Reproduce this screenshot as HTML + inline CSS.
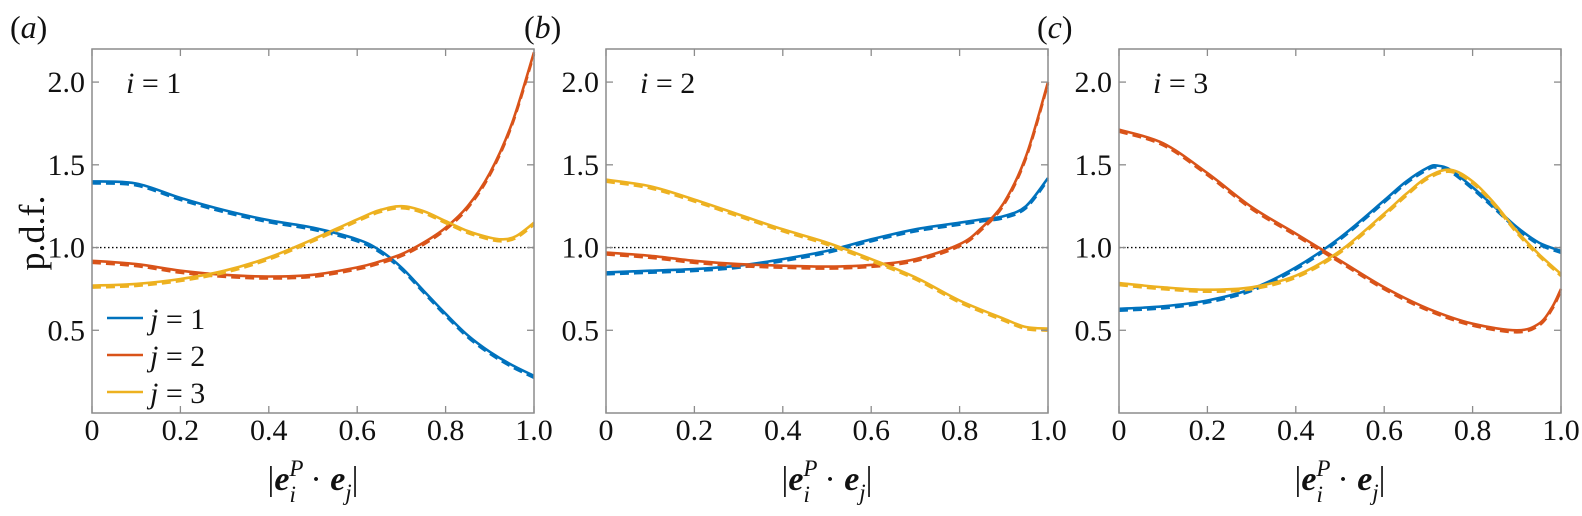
<!DOCTYPE html>
<html><head><meta charset="utf-8"><style>
html,body{margin:0;padding:0;background:#fff;}
svg{display:block;}
svg text{font-family:"Liberation Serif","DejaVu Serif","Noto Serif CJK SC",serif;}
</style></head><body>
<svg id="chart" width="1582" height="516" viewBox="0 0 1582 516"></svg>
<script>
const xTicks=[0,0.2,0.4,0.6,0.8,1.0];
const xTickLabels=["0","0.2","0.4","0.6","0.8","1.0"];
const yTicks=[0.5,1.0,1.5,2.0];
const yTickLabels=["0.5","1.0","1.5","2.0"];
const panelLetters=["a","b","c"];
const panelIndex=["1","2","3"];
const aX=[0,0.1,0.2,0.3,0.4,0.5,0.6,0.65,0.7,0.75,0.8,0.85,0.9,0.95,1.0];
const aBlue=[1.40,1.387,1.30,1.225,1.165,1.12,1.05,0.985,0.88,0.74,0.60,0.47,0.37,0.29,0.225];
const aRed=[0.92,0.90,0.86,0.835,0.825,0.835,0.88,0.915,0.96,1.03,1.12,1.25,1.45,1.75,2.18];
const aYX=[0,0.1,0.2,0.3,0.4,0.5,0.6,0.65,0.7,0.75,0.8,0.85,0.9,0.93,0.96,1.0];
const aYellow=[0.77,0.78,0.81,0.86,0.94,1.05,1.17,1.225,1.25,1.22,1.16,1.10,1.06,1.05,1.07,1.15];
const bX=[0,0.1,0.2,0.3,0.4,0.5,0.6,0.7,0.8,0.85,0.9,0.95,1.0];
const bBlue=[0.85,0.86,0.87,0.89,0.93,0.98,1.05,1.11,1.15,1.17,1.19,1.25,1.42];
const bRed=[0.97,0.95,0.92,0.90,0.89,0.885,0.895,0.93,1.02,1.12,1.27,1.55,2.0];
const bYX=[0,0.1,0.2,0.3,0.4,0.5,0.6,0.7,0.8,0.9,0.95,1.0];
const bYellow=[1.41,1.37,1.29,1.20,1.11,1.03,0.93,0.82,0.68,0.57,0.52,0.51];
const cRX=[0,0.1,0.2,0.3,0.4,0.5,0.6,0.7,0.8,0.9,0.95,0.98,1.0];
const cRed=[1.713,1.63,1.45,1.245,1.084,0.922,0.76,0.63,0.54,0.50,0.54,0.64,0.75];
const cBX=[0,0.1,0.2,0.3,0.4,0.5,0.6,0.65,0.7,0.72,0.75,0.8,0.85,0.9,0.95,1.0];
const cBlue=[0.63,0.645,0.68,0.75,0.88,1.06,1.285,1.40,1.485,1.495,1.47,1.365,1.245,1.124,1.03,0.98];
const cYX=[0,0.1,0.2,0.3,0.4,0.5,0.6,0.65,0.7,0.75,0.8,0.85,0.9,0.95,1.0];
const cYellow=[0.785,0.76,0.745,0.76,0.83,0.98,1.205,1.325,1.43,1.47,1.40,1.265,1.10,0.96,0.84];
const legendLabels=["1","2","3"];

const NS="http://www.w3.org/2000/svg";
const svg=document.getElementById('chart');
const C={blue:"#0072BD",red:"#D95319",yellow:"#EDB120"};
const panelsLeft=[92,606,1119], PW=442, TOP=49, BOT=413, YMAX=2.2;
function mk(tag,attrs,parent){const e=document.createElementNS(NS,tag);for(const k in attrs)e.setAttribute(k,attrs[k]);(parent||svg).appendChild(e);return e;}
function sx(p,v){return panelsLeft[p]+v*PW;}
function sy(v){return BOT-(v/YMAX)*(BOT-TOP);}
function pathD(p,xs,ys,off){
  const pts=xs.map((x,i)=>[sx(p,x),sy(ys[i]+off)]);
  let d="M"+pts[0][0].toFixed(1)+","+pts[0][1].toFixed(1);
  for(let i=0;i<pts.length-1;i++){
    const p0=pts[Math.max(0,i-1)],p1=pts[i],p2=pts[i+1],p3=pts[Math.min(pts.length-1,i+2)];
    const c1=[p1[0]+(p2[0]-p0[0])/6,p1[1]+(p2[1]-p0[1])/6];
    const c2=[p2[0]-(p3[0]-p1[0])/6,p2[1]-(p3[1]-p1[1])/6];
    d+=" C"+c1[0].toFixed(1)+","+c1[1].toFixed(1)+" "+c2[0].toFixed(1)+","+c2[1].toFixed(1)+" "+p2[0].toFixed(1)+","+p2[1].toFixed(1);
  }
  return d;
}
const series=[
 [[aX,aBlue,"blue"],[aX,aRed,"red"],[aYX,aYellow,"yellow"]],
 [[bX,bBlue,"blue"],[bX,bRed,"red"],[bYX,bYellow,"yellow"]],
 [[cBX,cBlue,"blue"],[cRX,cRed,"red"],[cYX,cYellow,"yellow"]]
];
for(let p=0;p<3;p++){
  const g=mk('g',{});
  
  
  const L=panelsLeft[p],R=L+PW;
  const ref=mk('line',{x1:L,x2:R,y1:sy(1),y2:sy(1),stroke:"#000","stroke-width":1.3,"stroke-dasharray":"1.5,2.5"},g);
  
  
  series[p].forEach(s=>{
    const dash=mk('path',{d:pathD(p,s[0],s[1],-0.012),fill:"none",stroke:C[s[2]],"stroke-width":2.6,"stroke-dasharray":"9,5"},g);
    
    
    const ln=mk('path',{d:pathD(p,s[0],s[1],0),fill:"none",stroke:C[s[2]],"stroke-width":2.6},g);
    
    
  });
  const fr=mk('rect',{x:L,y:TOP,width:PW,height:BOT-TOP,fill:"none",stroke:"#8c8c8c","stroke-width":1.5},g);
  
  
  xTicks.forEach((t,i)=>{
    const x=sx(p,t);
    mk('line',{x1:x,x2:x,y1:BOT,y2:BOT-7,stroke:"#8c8c8c","stroke-width":1.3},g);
    mk('line',{x1:x,x2:x,y1:TOP,y2:TOP+7,stroke:"#8c8c8c","stroke-width":1.3},g);
    const tx=mk('text',{x:x,y:440,"font-size":30,"text-anchor":"middle",fill:"#111"},g);
    tx.textContent=xTickLabels[i];
    
    
  });
  yTicks.forEach((t,i)=>{
    const y=sy(t);
    mk('line',{x1:L,x2:L+7,y1:y,y2:y,stroke:"#8c8c8c","stroke-width":1.3},g);
    mk('line',{x1:R,x2:R-7,y1:y,y2:y,stroke:"#8c8c8c","stroke-width":1.3},g);
    const ty=mk('text',{x:L-7,y:y+10,"font-size":30,"text-anchor":"end",fill:"#111"},g);
    ty.textContent=yTickLabels[i];
    
    
  });
  const xt=mk('text',{x:L+PW/2,y:490,"font-size":34,"text-anchor":"middle",fill:"#111"},g);
  xt.innerHTML='|<tspan font-weight="bold" font-style="italic">e</tspan><tspan font-style="italic" font-size="23" dy="-14">P</tspan><tspan font-style="italic" font-size="23" dx="-14" dy="26">i</tspan><tspan dy="-12" dx="6"> · </tspan><tspan font-weight="bold" font-style="italic">e</tspan><tspan font-style="italic" font-size="23" dy="10">j</tspan><tspan dy="-10">|</tspan>';
  
  
  const pl=mk('text',{x:L-82,y:38,"font-size":32,fill:"#111"},g);
  pl.innerHTML='(<tspan font-style="italic">'+panelLetters[p]+'</tspan>)';
  
  
  const il=mk('text',{x:L+34,y:93,"font-size":30,fill:"#111"},g);
  il.innerHTML='<tspan font-style="italic">i</tspan> = '+panelIndex[p];
  
  
}
const yl=mk('text',{x:0,y:0,"font-size":36,"text-anchor":"middle",fill:"#111",transform:"translate(44,233) rotate(-90)"});
yl.textContent="p.d.f.";


const lg=mk('g',{});


["blue","red","yellow"].forEach((c,i)=>{
  const y=318+i*37;
  mk('line',{x1:107,x2:143,y1:y,y2:y,stroke:C[c],"stroke-width":2.6},lg);
  const t=mk('text',{x:150,y:y+11,"font-size":30,fill:"#111"},lg);
  t.innerHTML='<tspan font-style="italic">j</tspan> = '+legendLabels[i];
  
  
});
</script>
</body></html>
